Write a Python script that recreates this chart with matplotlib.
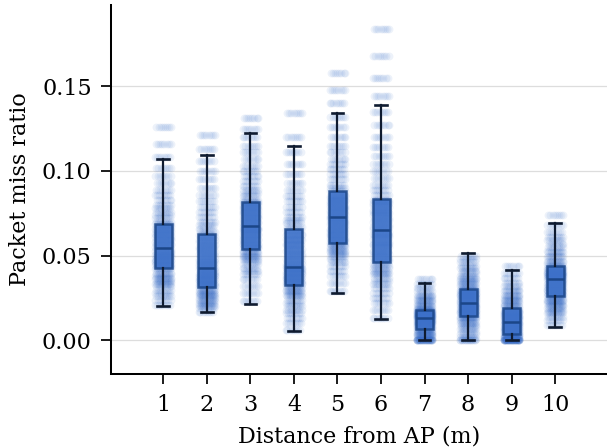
"""Packet miss ratio by distance from the AP: strip cloud with box plots on top."""

import numpy as np
import matplotlib
matplotlib.use("Agg", force=True)
import matplotlib.pyplot as plt

matplotlib.rcParams.update({
    "font.family": "serif",
    "font.serif": ["DejaVu Serif"],
})

DISTANCES = ["1", "2", "3", "4", "5", "6", "7", "8", "9", "10"]

# box summary
WHISK_LO = [0.0205, 0.0165, 0.0215, 0.0055, 0.0282, 0.0124, 0.0000, 0.0000, 0.0000, 0.0081]
Q1 = [0.0429, 0.0313, 0.0539, 0.0327, 0.0575, 0.0461, 0.0065, 0.0144, 0.0035, 0.0262]
MEDIAN = [0.0543, 0.0429, 0.0677, 0.0435, 0.0729, 0.0650, 0.0132, 0.0222, 0.0110, 0.0364]
Q3 = [0.0689, 0.0626, 0.0819, 0.0660, 0.0884, 0.0837, 0.0177, 0.0305, 0.0191, 0.0437]
WHISK_HI = [0.1073, 0.1095, 0.1225, 0.1148, 0.1341, 0.1392, 0.0339, 0.0516, 0.0413, 0.0691]

CLOUD_1 = [0.021, 0.024, 0.026, 0.028, 0.030, 0.032, 0.033, 0.034, 0.035, 0.036,
           0.037, 0.038, 0.039, 0.040, 0.042, 0.043, 0.044, 0.0445, 0.045, 0.046,
           0.047, 0.0475, 0.048, 0.049, 0.050, 0.0505, 0.051, 0.052, 0.053, 0.054,
           0.055, 0.056, 0.057, 0.058, 0.059, 0.060, 0.061, 0.062, 0.063, 0.064,
           0.065, 0.066, 0.067, 0.068, 0.0685, 0.070, 0.072, 0.074, 0.076, 0.078,
           0.080, 0.083, 0.086, 0.089, 0.093, 0.097, 0.102, 0.108, 0.116, 0.126]
CLOUD_2 = [0.017, 0.019, 0.020, 0.021, 0.022, 0.023, 0.024, 0.025, 0.026, 0.027,
           0.0275, 0.028, 0.029, 0.030, 0.031, 0.032, 0.0325, 0.033, 0.034, 0.035,
           0.0355, 0.036, 0.037, 0.038, 0.0385, 0.039, 0.040, 0.041, 0.042, 0.0425,
           0.044, 0.045, 0.046, 0.047, 0.048, 0.050, 0.051, 0.052, 0.054, 0.055,
           0.056, 0.058, 0.059, 0.061, 0.062, 0.064, 0.066, 0.068, 0.070, 0.073,
           0.076, 0.079, 0.082, 0.086, 0.090, 0.095, 0.100, 0.106, 0.113, 0.121]
CLOUD_3 = [0.023, 0.028, 0.032, 0.036, 0.039, 0.041, 0.043, 0.045, 0.047, 0.048,
           0.049, 0.050, 0.051, 0.052, 0.053, 0.0545, 0.055, 0.056, 0.057, 0.058,
           0.059, 0.060, 0.061, 0.062, 0.063, 0.064, 0.065, 0.066, 0.066, 0.067,
           0.068, 0.069, 0.070, 0.071, 0.072, 0.073, 0.074, 0.075, 0.076, 0.077,
           0.078, 0.079, 0.080, 0.081, 0.0815, 0.083, 0.085, 0.087, 0.089, 0.091,
           0.094, 0.097, 0.100, 0.103, 0.107, 0.111, 0.115, 0.120, 0.125, 0.131]
CLOUD_4 = [0.006, 0.010, 0.013, 0.016, 0.018, 0.020, 0.022, 0.024, 0.026, 0.027,
           0.028, 0.029, 0.030, 0.031, 0.032, 0.033, 0.034, 0.0345, 0.035, 0.036,
           0.037, 0.0375, 0.038, 0.039, 0.040, 0.0405, 0.041, 0.042, 0.0425, 0.043,
           0.044, 0.045, 0.047, 0.048, 0.050, 0.051, 0.053, 0.054, 0.056, 0.057,
           0.059, 0.060, 0.062, 0.063, 0.065, 0.067, 0.069, 0.071, 0.073, 0.076,
           0.079, 0.082, 0.085, 0.089, 0.093, 0.098, 0.104, 0.111, 0.120, 0.134]
CLOUD_5 = [0.029, 0.034, 0.038, 0.041, 0.044, 0.046, 0.048, 0.050, 0.051, 0.052,
           0.053, 0.054, 0.055, 0.056, 0.057, 0.058, 0.059, 0.060, 0.061, 0.062,
           0.063, 0.064, 0.065, 0.066, 0.067, 0.068, 0.069, 0.070, 0.071, 0.072,
           0.073, 0.074, 0.075, 0.076, 0.077, 0.078, 0.079, 0.080, 0.081, 0.082,
           0.083, 0.084, 0.085, 0.086, 0.088, 0.090, 0.092, 0.095, 0.098, 0.101,
           0.104, 0.107, 0.111, 0.115, 0.120, 0.126, 0.132, 0.140, 0.148, 0.158]
CLOUD_6 = [0.013, 0.018, 0.022, 0.025, 0.028, 0.031, 0.033, 0.035, 0.037, 0.039,
           0.040, 0.041, 0.043, 0.044, 0.045, 0.047, 0.048, 0.049, 0.051, 0.052,
           0.053, 0.055, 0.056, 0.057, 0.058, 0.060, 0.061, 0.062, 0.063, 0.064,
           0.066, 0.067, 0.068, 0.070, 0.071, 0.072, 0.074, 0.075, 0.076, 0.077,
           0.079, 0.080, 0.081, 0.082, 0.083, 0.086, 0.089, 0.092, 0.096, 0.100,
           0.104, 0.109, 0.114, 0.120, 0.127, 0.135, 0.144, 0.155, 0.168, 0.184]
CLOUD_7 = [0.000, 0.000, 0.000, 0.000, 0.000, 0.001, 0.001, 0.002, 0.003, 0.003,
           0.004, 0.004, 0.005, 0.005, 0.006, 0.007, 0.0075, 0.008, 0.0085, 0.009,
           0.0095, 0.010, 0.0105, 0.011, 0.011, 0.0115, 0.012, 0.012, 0.0125, 0.013,
           0.0135, 0.0138, 0.014, 0.0143, 0.0146, 0.015, 0.0152, 0.0155, 0.0158, 0.016,
           0.0163, 0.0166, 0.017, 0.0172, 0.0175, 0.018, 0.0185, 0.019, 0.020, 0.021,
           0.022, 0.023, 0.024, 0.025, 0.026, 0.027, 0.029, 0.031, 0.033, 0.036]
CLOUD_8 = [0.000, 0.000, 0.001, 0.002, 0.004, 0.005, 0.007, 0.008, 0.009, 0.010,
           0.011, 0.012, 0.013, 0.0135, 0.014, 0.015, 0.0155, 0.016, 0.0165, 0.017,
           0.0175, 0.018, 0.0185, 0.019, 0.0195, 0.020, 0.0205, 0.021, 0.0215, 0.022,
           0.0228, 0.0233, 0.024, 0.0245, 0.025, 0.0255, 0.026, 0.0265, 0.027, 0.0275,
           0.028, 0.0285, 0.029, 0.0295, 0.030, 0.031, 0.032, 0.033, 0.034, 0.035,
           0.036, 0.037, 0.038, 0.040, 0.041, 0.043, 0.044, 0.046, 0.048, 0.050]
CLOUD_9 = [0.000, 0.000, 0.000, 0.000, 0.000, 0.000, 0.000, 0.001, 0.001, 0.001,
           0.002, 0.002, 0.002, 0.003, 0.003, 0.004, 0.0045, 0.005, 0.0055, 0.006,
           0.0065, 0.007, 0.0075, 0.008, 0.0085, 0.009, 0.0095, 0.010, 0.0103, 0.0107,
           0.0115, 0.012, 0.0125, 0.013, 0.0135, 0.014, 0.0145, 0.015, 0.0155, 0.016,
           0.0165, 0.017, 0.0175, 0.018, 0.019, 0.020, 0.021, 0.022, 0.023, 0.024,
           0.025, 0.026, 0.027, 0.029, 0.030, 0.032, 0.034, 0.037, 0.040, 0.044]
CLOUD_10 = [0.009, 0.012, 0.014, 0.016, 0.017, 0.018, 0.019, 0.020, 0.021, 0.022,
            0.023, 0.0235, 0.024, 0.025, 0.026, 0.027, 0.0275, 0.028, 0.029, 0.0295,
            0.030, 0.031, 0.0315, 0.032, 0.033, 0.0335, 0.034, 0.035, 0.0355, 0.036,
            0.0368, 0.0372, 0.0377, 0.038, 0.0385, 0.039, 0.0393, 0.0397, 0.040, 0.0405,
            0.041, 0.0415, 0.042, 0.0425, 0.043, 0.044, 0.045, 0.046, 0.047, 0.049,
            0.050, 0.052, 0.053, 0.055, 0.057, 0.059, 0.061, 0.064, 0.068, 0.074]
CLOUDS = [CLOUD_1, CLOUD_2, CLOUD_3, CLOUD_4, CLOUD_5,
          CLOUD_6, CLOUD_7, CLOUD_8, CLOUD_9, CLOUD_10]

POINT_COLOR = "#3b6fc9"
BOX_FACE = "#3d71c9"
BOX_EDGE = "#1b4688"
WHISKER = "#0f1b30"

fig = plt.figure(figsize=(6.07, 4.48), dpi=100)
ax = fig.add_axes([0.183, 0.165, 0.817, 0.824])

# strip cloud: every sampled value drawn at several spread-out x positions
n_copies = 8
spread = np.linspace(-0.175, 0.175, n_copies)
step = spread[1] - spread[0]
for pos, cloud in enumerate(CLOUDS):
    for i, y in enumerate(cloud):
        shift = ((i * 0.37) % 1.0 - 0.5) * step
        xs = pos + np.clip(spread + shift, -0.18, 0.18)
        ax.scatter(xs, np.full(n_copies, y), s=32, color=POINT_COLOR,
                   alpha=0.09, linewidths=0, zorder=2)

stats = [
    {"whislo": lo, "q1": a, "med": m, "q3": b, "whishi": hi, "fliers": []}
    for lo, a, m, b, hi in zip(WHISK_LO, Q1, MEDIAN, Q3, WHISK_HI)
]
ax.bxp(
    stats,
    positions=range(len(DISTANCES)),
    widths=0.39,
    capwidths=0.27,
    patch_artist=True,
    showfliers=False,
    boxprops=dict(facecolor=BOX_FACE, edgecolor=BOX_EDGE, linewidth=1.8, alpha=0.85),
    medianprops=dict(color=BOX_EDGE, linewidth=1.8),
    whiskerprops=dict(color=WHISKER, linewidth=1.6),
    capprops=dict(color=WHISKER, linewidth=1.9),
    zorder=3,
)

ax.set_xticks(range(len(DISTANCES)))
ax.set_xticklabels(DISTANCES)
ax.set_xlim(-1.2, 10.19)
ax.set_ylim(-0.0199, 0.198)
ax.set_yticks([0.00, 0.05, 0.10, 0.15])
ax.set_yticklabels(["0.00", "0.05", "0.10", "0.15"])
ax.set_xlabel("Distance from AP (m)", fontsize=16, labelpad=7.5)
ax.set_ylabel("Packet miss ratio", fontsize=16, labelpad=7.5)
ax.tick_params(labelsize=16, length=7, width=1.25, pad=7)
ax.yaxis.grid(True, color="#dddddd", linewidth=0.9, zorder=0)
ax.set_axisbelow(True)
for side in ("top", "right"):
    ax.spines[side].set_visible(False)
for side in ("left", "bottom"):
    ax.spines[side].set_linewidth(1.45)

fig.savefig("out.png", dpi=100)
